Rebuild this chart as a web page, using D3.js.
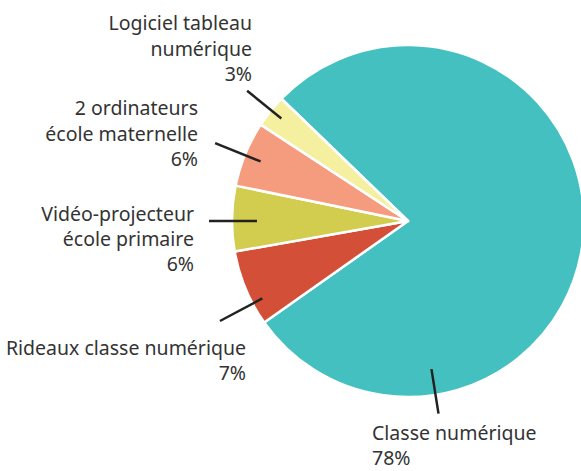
<!DOCTYPE html>
<meta charset="utf-8">
<style>
body { margin: 0; background: #fff; }
.label text {
  font: 19.5px "Noto Sans", sans-serif;
  fill: #333;
}
.leader {
  stroke: #222;
  stroke-width: 2.5;
}
</style>
<body>
<svg></svg>
<script src="https://cdn.jsdelivr.net/npm/d3@7"></script>
<script>

// data
var categories = ["Classe numérique", "Rideaux classe numérique", "Vidéo-projecteur école primaire", "2 ordinateurs école maternelle", "Logiciel tableau numérique"];
var values = [78, 7, 6, 6, 3];
var labelLines = [
  ["Classe numérique", "78%"],
  ["Rideaux classe numérique", "7%"],
  ["Vidéo-projecteur", "école primaire", "6%"],
  ["2 ordinateurs", "école maternelle", "6%"],
  ["Logiciel tableau", "numérique", "3%"]
];
var colors = ["#45c0c0", "#d44f37", "#d2cd4f", "#f59c7f", "#f5f0a0"];

var width = 581,
    height = 471,
    cx = 408, cy = 221,
    radius = 176;

// label placement (angle in degrees, leader radii, text anchor relative to centre)
var layout = [
  {angle: 171, r0: 150, r1: 195, x: -36, y: 219, lh: 25, anchor: "start"},
  {angle: 242, r0: 165, r1: 213, x: -162, y: 134, lh: 25, anchor: "end"},
  {angle: 270, r0: 151, r1: 199, x: -214, y: 0, lh: 25, anchor: "end"},
  {angle: 292, r0: 159, r1: 208, x: -210, y: -106, lh: 25.5, anchor: "end"},
  {angle: 309, r0: 163, r1: 207, x: -156, y: -191, lh: 25.5, anchor: "end"}
];

var svg = d3.select("svg")
    .attr("width", width)
    .attr("height", height)
  .append("g")
    .attr("transform", "translate(" + cx + "," + cy + ")");

var start = -46 * Math.PI / 180;
var pie = d3.pie()
    .sort(null)
    .startAngle(start)
    .endAngle(start + 2 * Math.PI)
    .value(function(d) { return d; });

var arc = d3.arc()
    .innerRadius(0)
    .outerRadius(radius);

var arcs = pie(values);

svg.selectAll(".slice")
    .data(arcs)
  .enter().append("path")
    .attr("class", "slice")
    .attr("d", arc)
    .attr("fill", function(d, i) { return colors[i]; })
    .attr("stroke", "#fff")
    .attr("stroke-width", 2.5)
    .attr("stroke-linejoin", "round");

function polar(a, r) {
  var t = a * Math.PI / 180;
  return [Math.sin(t) * r, -Math.cos(t) * r];
}

svg.selectAll(".leader")
    .data(arcs)
  .enter().append("line")
    .attr("class", "leader")
    .attr("x1", function(d, i) { return polar(layout[i].angle, layout[i].r0)[0]; })
    .attr("y1", function(d, i) { return polar(layout[i].angle, layout[i].r0)[1]; })
    .attr("x2", function(d, i) { return polar(layout[i].angle, layout[i].r1)[0]; })
    .attr("y2", function(d, i) { return polar(layout[i].angle, layout[i].r1)[1]; });

var labels = svg.selectAll(".label")
    .data(arcs)
  .enter().append("g")
    .attr("class", "label")
    .attr("transform", function(d, i) { return "translate(" + layout[i].x + "," + layout[i].y + ")"; });

labels.append("text")
    .attr("text-anchor", function(d, i) { return layout[i].anchor; })
    .each(function(d, i) {
      var lh = layout[i].lh;
      d3.select(this).selectAll("tspan")
          .data(labelLines[i])
        .enter().append("tspan")
          .attr("x", 0)
          .attr("y", function(s, j) { return j * lh; })
          .text(function(s) { return s; });
    });

</script>
